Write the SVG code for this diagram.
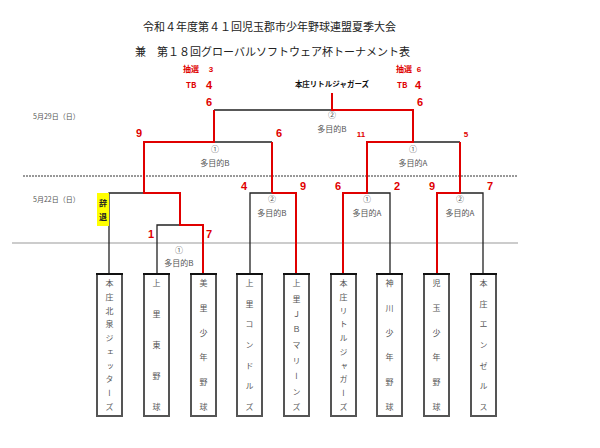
<svg xmlns="http://www.w3.org/2000/svg" width="600" height="448" viewBox="0 0 600 448">
<defs>
<style>
.title{font-family:"Noto Sans CJK JP",sans-serif;font-size:11px;fill:#222}
.date{font-family:"Noto Sans CJK JP",sans-serif;font-size:7px;fill:#555}
.venue{font-family:"Noto Sans CJK JP",sans-serif;font-size:8px;fill:#555;text-anchor:middle}
.score{font-family:"Liberation Sans","Noto Sans CJK JP",sans-serif;font-size:11px;font-weight:bold;fill:#e00000;text-anchor:middle}
.small{font-family:"Noto Sans CJK JP",sans-serif;font-size:8px;font-weight:bold;fill:#e00000}
.sm{font-family:"Liberation Sans",sans-serif;font-size:8px;font-weight:bold;fill:#e00000;text-anchor:middle}
.box{fill:#fff;stroke:#555;stroke-width:2}
.boxtop{stroke:#111;stroke-width:2}
.team{font-family:"Noto Sans CJK JP",sans-serif;font-size:8px;fill:#555;writing-mode:vertical-rl;text-anchor:start}
.blk{fill:none;stroke:#222;stroke-width:1.3}
.red{fill:none;stroke:#e00000;stroke-width:2}
</style>
</defs>
<rect width="600" height="448" fill="#fff"/>
<text class="title" x="143" y="31">令和４年度第４１回児玉郡市少年野球連盟夏季大会</text>
<text class="title" x="135" y="56">兼　第１８回グローバルソフトウェア杯トーナメント表</text>
<text class="date" x="33" y="119">5月29日（日）</text>
<text class="date" x="33" y="202">5月22日（日）</text>
<line x1="23" y1="176" x2="518" y2="176" stroke="#333" stroke-width="1" stroke-dasharray="2,1"/>
<line x1="12" y1="243" x2="518" y2="243" stroke="#999" stroke-width="1"/>
<g id="connectors">
<path class="blk" d="M109,274 V193 H144 M157,274 V225 H180 M214,142 H272 M214,110 H332 M250,274 V193 H272 M367,193 H390 V274 M413,142 H460 M460,193 H483 V274"/>
<path class="red" d="M203,274 V225 H180 V193 H144 V142 H214 V110 M272,193 V142 M296,274 V193 H272 M332,93 V110 H413 V142 H367 V193 H343 V274 M460,142 V193 H437 V274"/>
</g>
<g id="labels">
<text class="small" x="183" y="72">抽選</text><text class="sm" x="211" y="72">3</text>
<text class="small" x="186" y="88">TB</text><text class="score" x="209" y="89">4</text>
<text class="score" x="209" y="106">6</text>
<text class="small" x="396" y="72">抽選</text><text class="sm" x="419" y="72">6</text>
<text class="small" x="397" y="88">TB</text><text class="score" x="418" y="89">4</text>
<text class="score" x="420" y="106">6</text>
<text x="332" y="87" text-anchor="middle" font-family="'Noto Sans CJK JP',sans-serif" font-size="7.5" font-weight="bold" fill="#111">本庄リトルジャガーズ</text>
<text class="venue" x="332" y="118">②</text><text class="venue" x="332" y="132">多目的B</text>
<text class="score" x="139" y="137">9</text><text class="score" x="279" y="137">6</text>
<text class="venue" x="215" y="152">①</text><text class="venue" x="215" y="166">多目的B</text>
<text class="sm" x="361" y="137">11</text><text class="sm" x="466" y="137">5</text>
<text class="venue" x="413" y="152">①</text><text class="venue" x="413" y="166">多目的A</text>
<text class="score" x="244" y="190">4</text><text class="score" x="303" y="190">9</text>
<text class="venue" x="272" y="202">②</text><text class="venue" x="272" y="216">多目的B</text>
<text class="score" x="338" y="190">6</text><text class="score" x="397" y="190">2</text>
<text class="venue" x="367" y="202">①</text><text class="venue" x="367" y="216">多目的A</text>
<text class="score" x="432" y="190">9</text><text class="score" x="490" y="190">7</text>
<text class="venue" x="460" y="202">②</text><text class="venue" x="460" y="216">多目的A</text>
<text class="score" x="151" y="238">1</text><text class="score" x="209" y="238">7</text>
<text class="venue" x="179" y="253">①</text><text class="venue" x="179" y="266">多目的B</text>
<rect x="97" y="193" width="12" height="33" fill="#ffff00"/>
<text x="103" y="206" text-anchor="middle" font-family="'Noto Sans CJK JP',sans-serif" font-size="8" font-weight="bold" fill="#222">辞</text>
<text x="103" y="220" text-anchor="middle" font-family="'Noto Sans CJK JP',sans-serif" font-size="8" font-weight="bold" fill="#222">退</text>
</g>
<g id="team1"><rect class="box" x="97" y="274" width="25" height="142"/><line class="boxtop" x1="96" y1="274" x2="123" y2="274"/><text class="team" x="109.5" y="279" style="letter-spacing:5.78px">本庄北泉ジェッターズ</text></g>
<g id="team2"><rect class="box" x="144" y="274" width="25" height="142"/><line class="boxtop" x1="143" y1="274" x2="170" y2="274"/><text class="team" x="156.5" y="279" style="letter-spacing:23px">上里東野球</text></g>
<g id="team3"><rect class="box" x="191" y="274" width="25" height="142"/><line class="boxtop" x1="190" y1="274" x2="217" y2="274"/><text class="team" x="203.5" y="279" style="letter-spacing:16.8px">美里少年野球</text></g>
<g id="team4"><rect class="box" x="237" y="274" width="25" height="142"/><line class="boxtop" x1="236" y1="274" x2="263" y2="274"/><text class="team" x="249.5" y="279" style="letter-spacing:12.67px">上里コンドルズ</text></g>
<g id="team5"><rect class="box" x="284" y="274" width="25" height="142"/><line class="boxtop" x1="283" y1="274" x2="310" y2="274"/><text class="team" x="296.5" y="279" style="letter-spacing:7.5px">上里ＪＢマリーンズ</text></g>
<g id="team6"><rect class="box" x="331" y="274" width="25" height="142"/><line class="boxtop" x1="330" y1="274" x2="357" y2="274"/><text class="team" x="343.5" y="279" style="letter-spacing:5.78px">本庄リトルジャガーズ</text></g>
<g id="team7"><rect class="box" x="377" y="274" width="25" height="142"/><line class="boxtop" x1="376" y1="274" x2="403" y2="274"/><text class="team" x="389.5" y="279" style="letter-spacing:16.8px">神川少年野球</text></g>
<g id="team8"><rect class="box" x="424" y="274" width="25" height="142"/><line class="boxtop" x1="423" y1="274" x2="450" y2="274"/><text class="team" x="436.5" y="279" style="letter-spacing:16.8px">児玉少年野球</text></g>
<g id="team9"><rect class="box" x="471" y="274" width="25" height="142"/><line class="boxtop" x1="470" y1="274" x2="497" y2="274"/><text class="team" x="483.5" y="279" style="letter-spacing:12.67px">本庄エンゼルス</text></g>
</svg>
